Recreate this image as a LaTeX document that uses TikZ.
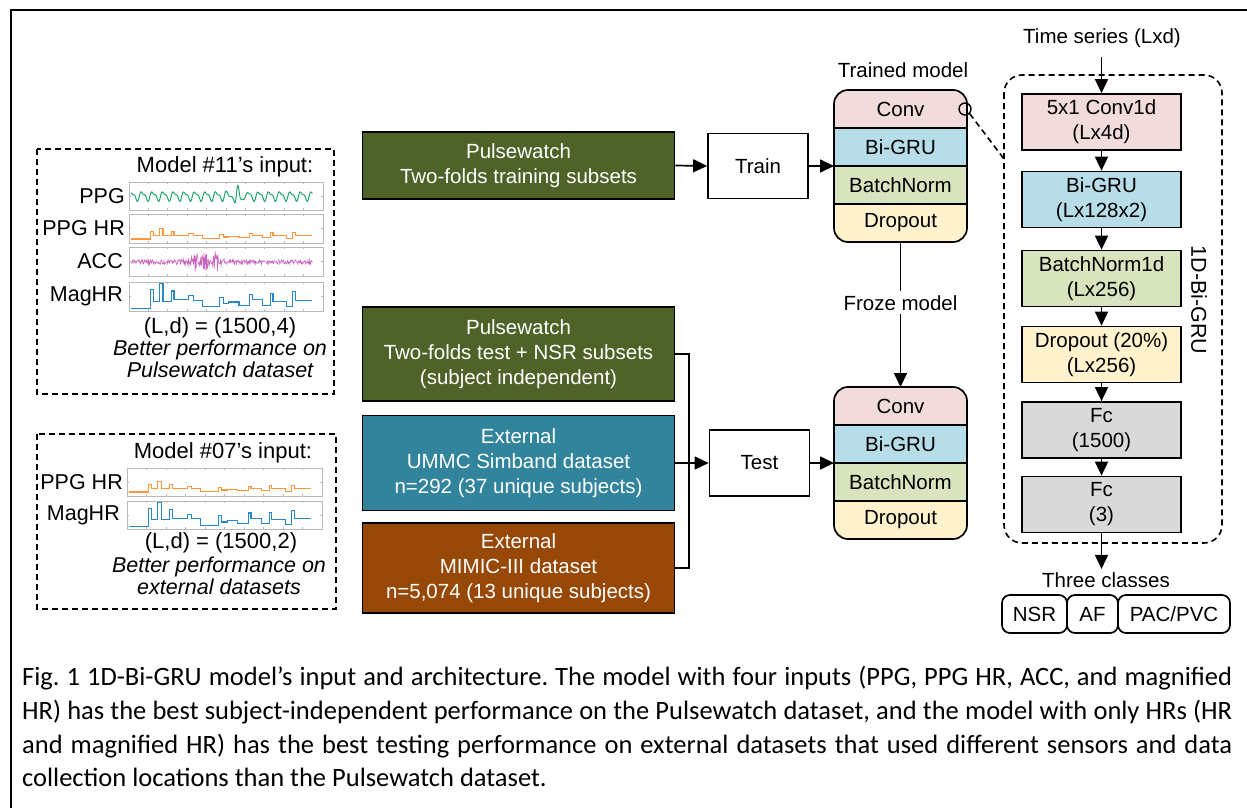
\documentclass[tikz,border=0pt]{standalone}
\usepackage{fontspec}
\setmainfont{Liberation Sans}
\newfontfamily\capfont{Carlito}
\usetikzlibrary{arrows.meta,calc}

\definecolor{pgreen}{RGB}{79,98,40}
\definecolor{pblue}{RGB}{49,132,155}
\definecolor{porange}{RGB}{151,72,6}
\definecolor{cconv}{RGB}{242,220,219}
\definecolor{cgru}{RGB}{183,222,232}
\definecolor{cbn}{RGB}{215,228,189}
\definecolor{cdrop}{RGB}{255,242,204}
\definecolor{cfc}{RGB}{217,217,217}
\definecolor{wppg}{RGB}{30,165,110}
\definecolor{whr}{RGB}{255,150,60}
\definecolor{wacc}{RGB}{200,100,190}
\definecolor{wmag}{RGB}{40,135,200}
\definecolor{plotframe}{RGB}{185,185,185}

\newcommand\hrsteps[1]{\draw[#1] (1.2,8) -| (11,74) -| (12.4,34) -| (15.8,94) -| (17.5,34) -| (21.8,69) -| (23.2,39) -| (30.9,53) -| (33.3,37) -| (37.8,14) -| (46.7,48) -| (48.5,25) -| (51.5,31) -| (56.7,20) -| (62.2,57) -| (63.6,39) -| (69,20) -| (72.9,60) -| (74.2,34) -| (81.1,16) -| (84.5,66) -| (85.9,37) -- (94.5,37);}
\newcommand\plotbox{\draw[pframe] (0,0) rectangle (100,100);
  \foreach \t in {10,20,...,90} {\draw[pframe] (\t,0) -- (\t,7) (\t,100) -- (\t,93);}
  \draw[pframe] (0,50) -- (1.2,50) (100,50) -- (98.8,50);}

\tikzset{
  every node/.style={font=\fontsize{20.5}{25}\selectfont},
  ln/.style={line width=1.7pt},
  arr/.style={line width=1.7pt, -{Triangle[length=14pt,width=13pt]}},
  dbox/.style={draw, line width=1.5pt, text=white, align=center, inner sep=0pt, minimum width=312pt},
  whitebox/.style={draw, fill=white, line width=1.7pt, inner sep=0pt, minimum width=100pt, minimum height=65pt},
  row/.style={inner sep=0pt, minimum width=133pt, minimum height=38pt, outer sep=0pt},
  layer/.style={draw, line width=1.7pt, align=center, inner sep=0pt, minimum width=159pt, minimum height=56pt},
  dashedframe/.style={line width=1.6pt, dash pattern=on 6pt off 4pt},
  pframe/.style={draw=plotframe, line width=0.8pt},
  lab/.style={anchor=east, inner sep=0pt, font=\fontsize{21.5}{25}\selectfont},
  ptxt/.style={inner sep=0pt, align=center, font=\fontsize{22}{22}\selectfont},
  cls/.style={draw, rounded corners=8pt, line width=1.7pt, minimum height=38pt, inner sep=0pt},
  capline/.style={anchor=base west, inner sep=0pt, font=\capfont\fontsize{26.5}{30}\selectfont\frenchspacing},
}

\begin{document}
\begin{tikzpicture}[x=1pt, y=-1pt]
\useasboundingbox (0,0) rectangle (1247,808);
\fill[white] (0,0) rectangle (1247,808);
% outer frame
\draw[line width=1.6pt] (1250,10) -- (11,10) -- (11,810);

% ---------- left panel 1 ----------
\draw[dashedframe] (37,149) rectangle (334,394);
\node[ptxt] (title1) at (225,167) {Model \#11's input:};
\node[lab] (lppg) at (125,196) {PPG};
\node[lab] (lhr1) at (125,228.5) {PPG HR};
\node[lab] (lacc) at (123,261.5) {ACC};
\node[lab] (lmag1) at (123,296.5) {MagHR};
% PPG plot
\begin{scope}[shift={(129pt,-210pt)}, x=1.94pt, y=0.28pt]
  \plotbox
  \draw[wppg, line width=1pt] plot[domain=1.2:94.5, samples=400] (\x, {50 + 14*sin(65.8*\x) + 6*sin(131.6*\x+40) + 33*sin(120*(\x-55.5))/(1+((\x-55.5)/1.8)^2)});
\end{scope}
% PPG HR plot
\begin{scope}[shift={(129pt,-243pt)}, x=1.94pt, y=0.29pt]
  \plotbox
\end{scope}
\begin{scope}[shift={(129pt,-240pt)}, x=1.94pt, y=0.12pt]
  \hrsteps{whr, line width=1.1pt}
\end{scope}
% ACC plot
\begin{scope}[shift={(129pt,-276pt)}, x=1.94pt, y=0.29pt]
  \plotbox
  \pgfmathsetseed{7}
  \draw[wacc, line width=0.6pt] plot[domain=1.2:94.5, samples=350] (\x, {48 + rand*(8 + 30/(1+((\x-34)/1.2)^2) + 25/(1+((\x-39)/1.5)^2) + 40/(1+((\x-45)/0.8)^2))});
\end{scope}
% MagHR plot
\begin{scope}[shift={(129pt,-311pt)}, x=1.94pt, y=0.29pt]
  \plotbox
  \hrsteps{wmag, line width=1.1pt}
\end{scope}
\node[ptxt] (ld1) at (220,328) {(L,d) = (1500,4)};
\node[ptxt, font=\itshape\fontsize{21.5}{22}\selectfont] (bp1) at (220,359) {Better performance on\\Pulsewatch dataset};

% ---------- left panel 2 ----------
\draw[dashedframe] (37,434) rectangle (336,609);
\node[ptxt] (title2) at (223,453) {Model \#07's input:};
\node[lab] (lhr2) at (123,482) {PPG HR};
\node[lab] (lmag2) at (120,515) {MagHR};
\begin{scope}[shift={(127pt,-496pt)}, x=1.95pt, y=0.28pt]
  \plotbox
\end{scope}
\begin{scope}[shift={(127pt,-493pt)}, x=1.95pt, y=0.12pt]
  \hrsteps{whr, line width=1.1pt}
\end{scope}
\begin{scope}[shift={(127pt,-529pt)}, x=1.95pt, y=0.28pt]
  \plotbox
  \hrsteps{wmag, line width=1.1pt}
\end{scope}
\node[ptxt] (ld2) at (221,543) {(L,d) = (1500,2)};
\node[ptxt, font=\itshape\fontsize{21.5}{22}\selectfont] (bp2) at (219,576) {Better performance on\\external datasets};

% ---------- datasets ----------
\node[dbox, fill=pgreen, minimum height=67pt] (trainset) at (518.5,165.5) {Pulsewatch\\Two-folds training subsets};
\node[dbox, fill=pgreen, minimum height=94pt] (testset) at (518.5,354) {Pulsewatch\\Two-folds test + NSR subsets\\(subject independent)};
\node[dbox, fill=pblue, minimum height=95pt] (umm) at (518.5,463) {External\\UMMC Simband dataset\\n=292 (37 unique subjects)};
\node[dbox, fill=porange, minimum height=90pt] (mimic) at (518.5,568) {External\\MIMIC-III dataset\\n=5,074 (13 unique subjects)};

\node[whitebox] (train) at (758,166) {Train};
\node[whitebox, minimum height=66pt] (test) at (759.5,463) {Test};

% ---------- trained model ----------
\node (tmlabel) at (903,70) {Trained model};
\begin{scope}
  \clip[rounded corners=14pt] (834,90) rectangle (967,242);
  \node[row, fill=cconv] (m1conv) at (900.5,109) {Conv};
  \node[row, fill=cgru] (m1gru) at (900.5,147) {Bi-GRU};
  \node[row, fill=cbn] (m1bn) at (900.5,185) {BatchNorm};
  \node[row, fill=cdrop] (m1drop) at (900.5,223) {Dropout};
\end{scope}
\draw[ln] (m1conv.south west) -- (m1conv.south east)
          (m1gru.south west) -- (m1gru.south east)
          (m1bn.south west) -- (m1bn.south east);
\draw[ln, rounded corners=14pt] (m1conv.north west) rectangle (m1drop.south east);

% ---------- frozen model ----------
\begin{scope}
  \clip[rounded corners=14pt] (834,387) rectangle (967,539);
  \node[row, fill=cconv] (m2conv) at (900.5,406) {Conv};
  \node[row, fill=cgru] (m2gru) at (900.5,444) {Bi-GRU};
  \node[row, fill=cbn] (m2bn) at (900.5,482) {BatchNorm};
  \node[row, fill=cdrop] (m2drop) at (900.5,520) {Dropout};
\end{scope}
\draw[ln] (m2conv.south west) -- (m2conv.south east)
          (m2gru.south west) -- (m2gru.south east)
          (m2bn.south west) -- (m2bn.south east);
\draw[ln, rounded corners=14pt] (m2conv.north west) rectangle (m2drop.south east);

% ---------- connectors ----------
\draw[arr] (trainset.east) -- (train.west);
\draw[arr] (train.east) -- (m1gru.south west);
\draw[ln] (testset.east) -- ++(14,0) |- (mimic.east);
\draw[arr] (umm.east) -- (test.west);
\draw[arr] (test.east) -- (m2gru.south west);
\draw[arr] (m1drop.south) -- node[pos=0.42, fill=white, inner sep=4pt] (froze) {Froze model} (m2conv.north);

% ---------- 1D-Bi-GRU column ----------
\node (ts) at (1102,38) {Time series (Lxd)};
\draw[dashedframe, rounded corners=18pt] (1004,75) rectangle (1222,543);
\node[layer, fill=cconv] (l1) at (1101.5,122) {5x1 Conv1d\\(Lx4d)};
\node[layer, fill=cgru] (l2) at (1101.5,199.5) {Bi-GRU\\(Lx128x2)};
\node[layer, fill=cbn] (l3) at (1101.5,278.5) {BatchNorm1d\\(Lx256)};
\node[layer, fill=cdrop] (l4) at (1101.5,354.5) {Dropout (20\%)\\(Lx256)};
\node[layer, fill=cfc] (l5) at (1101.5,430) {Fc\\(1500)};
\node[layer, fill=cfc] (l6) at (1101.5,504.5) {Fc\\(3)};
\node[rotate=-90, font=\fontsize{21.5}{25}\selectfont] (bigru) at (1199,300) {1D-Bi-GRU};
\draw[arr] ([yshift=-6pt]ts.south -| l1.north) -- (l1.north);
\draw[arr] (l1.south) -- (l2.north);
\draw[arr] (l2.south) -- (l3.north);
\draw[arr] (l3.south) -- (l4.north);
\draw[arr] (l4.south) -- (l5.north);
\draw[arr] (l5.south) -- (l6.north);
\node (tc) at (1106,580) {Three classes};
\draw[arr] (l6.south) -- (l6.south |- tc.north);
\node[cls, minimum width=65pt] (nsr) at (1034.5,614) {NSR};
\node[cls, minimum width=51pt] (af) at (1092.5,614) {AF};
\node[cls, minimum width=112pt] (pac) at (1174,614) {PAC/PVC};

% magnifier link
\node[circle, draw, line width=1.4pt, minimum size=12pt, inner sep=0pt] (mag) at (965,109) {};
\coordinate (magend) at (1004,159);
\draw[dashedframe] (mag.south east) -- (magend);

% ---------- caption ----------
\node[capline] (cap1) at (22,685) {\makebox[1210pt][s]{Fig. 1 1D-Bi-GRU model’s input and architecture. The model with four inputs (PPG, PPG HR, ACC, and magnified}};
\node[capline] (cap2) at (22,719) {\makebox[1210pt][s]{HR) has the best subject-independent performance on the Pulsewatch dataset, and the model with only HRs (HR}};
\node[capline] (cap3) at (22,753) {\makebox[1210pt][s]{and magnified HR) has the best testing performance on external datasets that used different sensors and data}};
\node[capline] (cap4) at (22,786) {collection locations than the Pulsewatch dataset.};
\end{tikzpicture}
\end{document}
